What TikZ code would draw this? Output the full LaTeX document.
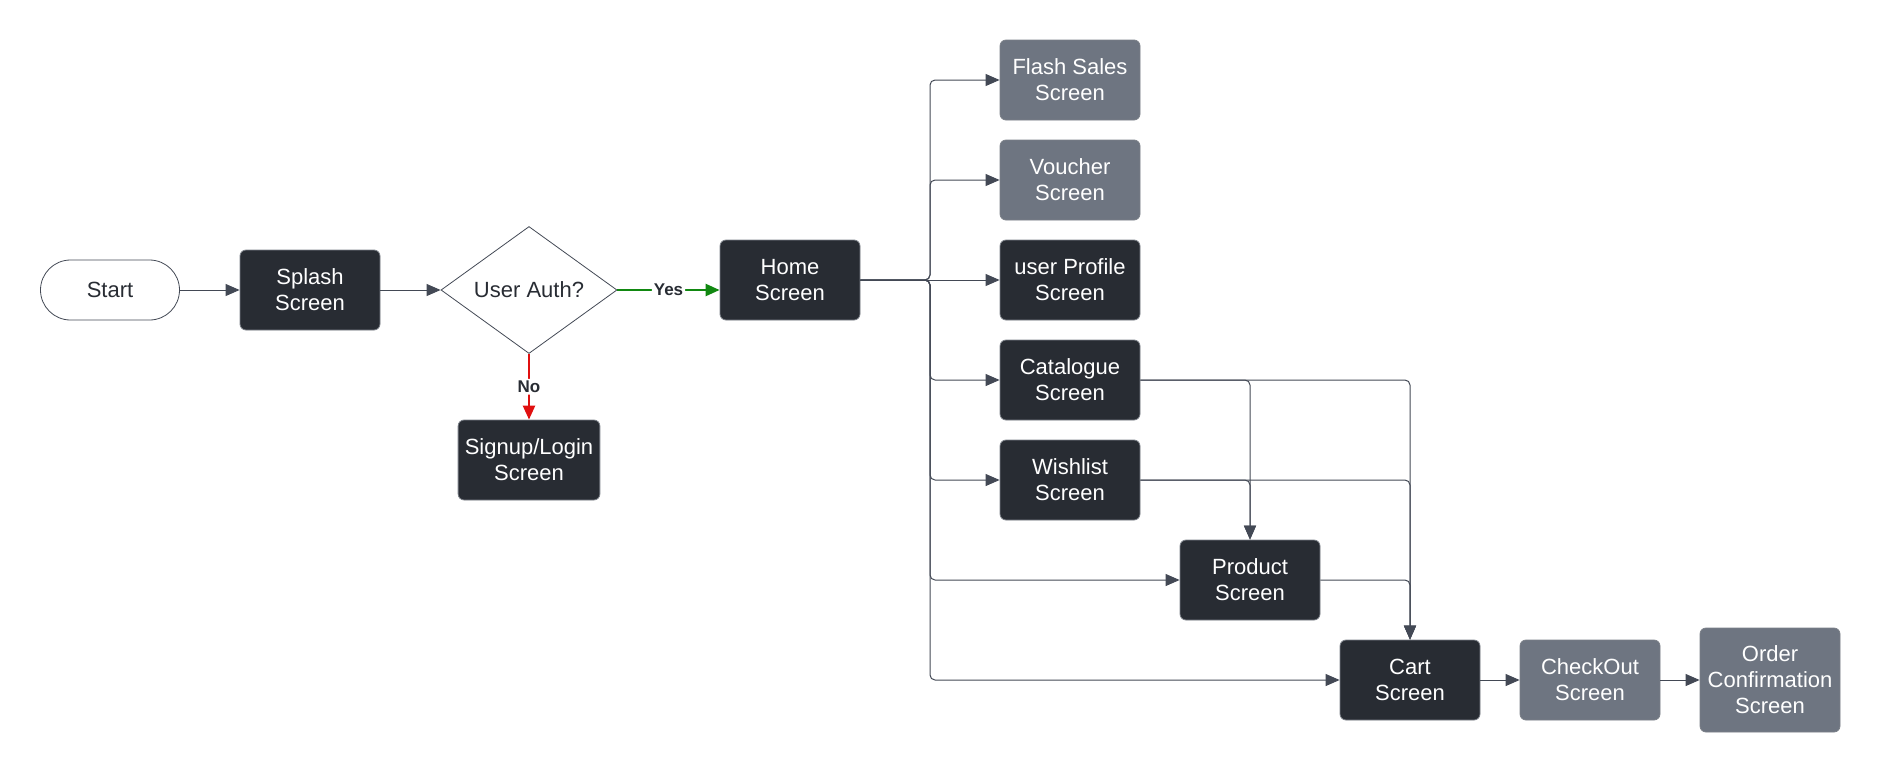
\documentclass[tikz,border=0pt]{standalone}
\usepackage{fontspec}
\setmainfont{Liberation Sans}
\usetikzlibrary{arrows.meta,shapes.geometric}
\definecolor{darkbox}{HTML}{282C33}
\definecolor{greybox}{HTML}{6E7581}
\definecolor{wire}{HTML}{434955}
\definecolor{okgreen}{HTML}{118811}
\definecolor{nored}{HTML}{E01010}
\begin{document}
\begin{tikzpicture}[x=0.5pt,y=-0.5pt,
  screen/.style={rectangle, rounded corners=3pt, draw=wire!70, fill=darkbox, text=white,
    minimum width=70pt, minimum height=40pt, align=center, font=\fontsize{11}{13}\selectfont},
  greyscreen/.style={screen, fill=greybox},
  arr/.style={draw=wire, line width=0.5pt, rounded corners=2.5pt, -{Triangle[width=6pt,length=7pt]}},
  lbl/.style={fill=white, inner sep=1pt, font=\bfseries\fontsize{8.5}{10}\selectfont, text=darkbox}]
\useasboundingbox (0,0) rectangle (1880,772);
\node[rectangle, rounded corners=15pt, draw=wire, minimum width=69.5pt, minimum height=30pt,
  font=\fontsize{11}{13}\selectfont, text=darkbox] (start) at (110,290){Start};
\node[screen] (splash) at (310,290){Splash\\Screen};
\node[diamond, draw=wire, line width=0.4pt, minimum width=88pt, minimum height=63.5pt, inner sep=0pt,
  font=\fontsize{11}{13}\selectfont, text=darkbox] (auth) at (529,290){User Auth?};
\node[screen] (signup) at (529,460){Signup/Login\\Screen};
\node[screen] (home) at (790,280){Home\\Screen};
\node[greyscreen] (flash) at (1070,80){Flash Sales\\Screen};
\node[greyscreen] (voucher) at (1070,180){Voucher\\Screen};
\node[screen] (profile) at (1070,280){user Profile\\Screen};
\node[screen] (catalogue) at (1070,380){Catalogue\\Screen};
\node[screen] (wishlist) at (1070,480){Wishlist\\Screen};
\node[screen] (product) at (1250,580){Product\\Screen};
\node[screen] (cart) at (1410,680){Cart\\Screen};
\node[greyscreen] (checkout) at (1590,680){CheckOut\\Screen};
\node[greyscreen, minimum height=52pt] (order) at (1770,680){Order\\Confirmation\\Screen};
\coordinate (bus) at (930,280);
\draw[arr] (start) -- (splash);
\draw[arr] (splash) -- (auth);
\draw[arr, draw=okgreen, line width=1.2pt] (auth.east) -- node[lbl]{Yes} (auth.east -| home.west);
\draw[arr, draw=nored, line width=1.2pt] (auth) -- node[lbl]{No} (signup);
\draw[arr] (home.east) -- (bus) |- (flash.west);
\draw[arr] (home.east) -- (bus) |- (voucher.west);
\draw[arr] (home.east) -- (profile.west);
\draw[arr] (home.east) -- (bus) |- (catalogue.west);
\draw[arr] (home.east) -- (bus) |- (wishlist.west);
\draw[arr] (home.east) -- (bus) |- (product.west);
\draw[arr] (home.east) -- (bus) |- (cart.west);
\draw[arr] (catalogue.east) -| (product.north);
\draw[arr] (catalogue.east) -| (cart.north);
\draw[arr] (wishlist.east) -| (product.north);
\draw[arr] (wishlist.east) -| (cart.north);
\draw[arr] (product.east) -| (cart.north);
\draw[arr] (cart) -- (checkout);
\draw[arr] (checkout) -- (order);
\end{tikzpicture}
\end{document}
